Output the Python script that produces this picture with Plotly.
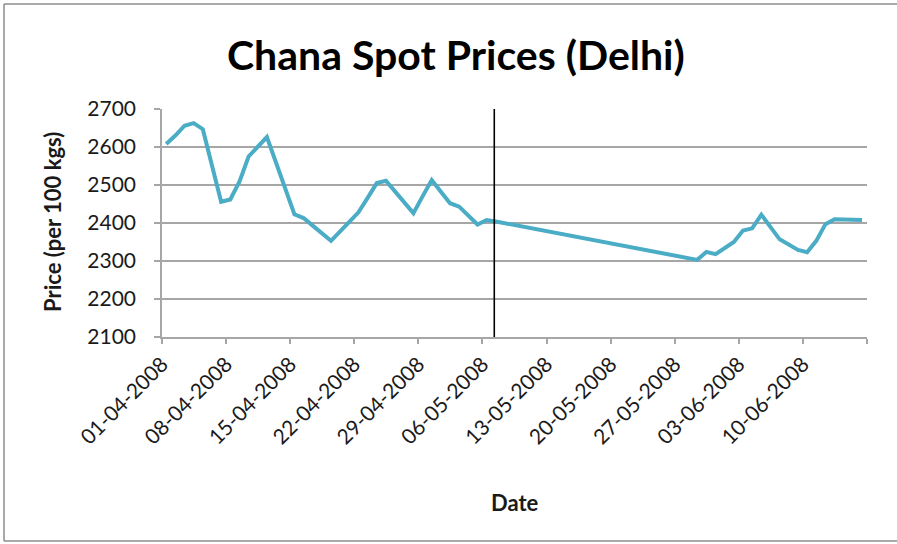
import plotly.graph_objects as go

# ---- data ----
dates = [
    "2008-04-01", "2008-04-02", "2008-04-03", "2008-04-04", "2008-04-05",
    "2008-04-07", "2008-04-08", "2008-04-09", "2008-04-10", "2008-04-11", "2008-04-12",
    "2008-04-15", "2008-04-16", "2008-04-17", "2008-04-18", "2008-04-19",
    "2008-04-21", "2008-04-22", "2008-04-23", "2008-04-24", "2008-04-25", "2008-04-26",
    "2008-04-28", "2008-04-29", "2008-04-30", "2008-05-01", "2008-05-02", "2008-05-03",
    "2008-05-05", "2008-05-06", "2008-05-07",
    "2008-05-29", "2008-05-30", "2008-05-31",
    "2008-06-02", "2008-06-03", "2008-06-04", "2008-06-05", "2008-06-06", "2008-06-07",
    "2008-06-09", "2008-06-10", "2008-06-11", "2008-06-12", "2008-06-13", "2008-06-14",
    "2008-06-16",
]
prices = [
    2608, 2630, 2656, 2663, 2647,
    2456, 2462, 2509, 2575, 2601, 2626,
    2423, 2413, 2393, 2373, 2353,
    2403, 2428, 2466, 2505, 2511, 2483,
    2426, 2470, 2513, 2482, 2452, 2443,
    2396, 2408, 2404,
    2303, 2324, 2318,
    2350, 2380, 2386, 2422, 2390, 2357,
    2329, 2323, 2353, 2397, 2410, 2410,
    2408,
]
tick_dates = ["2008-04-01", "2008-04-08", "2008-04-15", "2008-04-22", "2008-04-29",
              "2008-05-06", "2008-05-13", "2008-05-20", "2008-05-27", "2008-06-03",
              "2008-06-10", "2008-06-17"]
tick_labels = ["01-04-2008", "08-04-2008", "15-04-2008", "22-04-2008", "29-04-2008",
               "06-05-2008", "13-05-2008", "20-05-2008", "27-05-2008", "03-06-2008",
               "10-06-2008", ""]
y_ticks = [2100, 2200, 2300, 2400, 2500, 2600, 2700]
marker_date = "2008-05-07 07:00"

title_text = "Chana Spot Prices (Delhi)"
x_title = "Date"
y_title = "Price (per 100 kgs)"

# points sit at the middle of each day's band (Excel date axis)
x_pts = [d + " 11:00" for d in dates]

W, H = 897, 544
ML, MR, MT, MB = 162, 30, 109, 207
pw, ph = W - ML - MR, H - MT - MB

def px(x):
    return (x - ML) / pw

def py(y):
    return (H - MB - y) / ph

fig = go.Figure()
fig.add_trace(go.Scatter(
    x=x_pts, y=prices, mode="lines",
    line=dict(color="#4BACC6", width=4),
    showlegend=False, hoverinfo="x+y",
))

font_family = "Lato, Calibri, 'DejaVu Sans', sans-serif"
grid_col = "#A6A6A6"
border_col = "#8C8C8C"

fig.update_layout(
    width=W, height=H,
    margin=dict(l=ML, r=MR, t=MT, b=MB),
    paper_bgcolor="white", plot_bgcolor="white",
    font=dict(family=font_family, color="#1a1a1a"),
    xaxis=dict(
        type="date",
        range=["2008-04-01", "2008-06-17"],
        tickmode="array", tickvals=tick_dates, ticktext=tick_labels,
        tickangle=-45, tickfont=dict(size=21, color="#1a1a1a"),
        ticks="outside", ticklen=5, tickcolor=grid_col, tickwidth=1.5,
        showline=True, linecolor=grid_col, linewidth=1.5,
        showgrid=False, zeroline=False,
    ),
    yaxis=dict(
        range=[2100, 2700],
        tickmode="array", tickvals=y_ticks,
        tickfont=dict(size=21, color="#1a1a1a"),
        ticks="outside", ticklen=6, tickcolor=grid_col, tickwidth=1.5,
        ticklabelstandoff=14,
        showline=True, linecolor=grid_col, linewidth=1.5,
        showgrid=True, gridcolor=grid_col, gridwidth=1.5,
        zeroline=False,
    ),
    shapes=[
        dict(type="line", xref="x", yref="y",
             x0=marker_date, x1=marker_date, y0=2100, y1=2711,
             line=dict(color="black", width=1.6)),
        # chart-area border (left, top, bottom)
        dict(type="line", xref="paper", yref="paper",
             x0=px(4), x1=px(4), y0=py(541), y1=py(4),
             line=dict(color=border_col, width=1.5), layer="below"),
        dict(type="line", xref="paper", yref="paper",
             x0=px(4), x1=px(897), y0=py(4), y1=py(4),
             line=dict(color=border_col, width=1.5), layer="below"),
        dict(type="line", xref="paper", yref="paper",
             x0=px(4), x1=px(897), y0=py(541), y1=py(541),
             line=dict(color=border_col, width=1.5), layer="below"),
    ],
    annotations=[
        dict(text="<b>" + title_text + "</b>", xref="paper", yref="paper",
             x=px(456), y=py(55), xanchor="center", yanchor="middle",
             showarrow=False, font=dict(size=41, color="black", family=font_family)),
        dict(text="<b>" + x_title + "</b>", xref="paper", yref="paper",
             x=px(515), y=py(502), xanchor="center", yanchor="middle",
             showarrow=False, font=dict(size=22, color="#1a1a1a", family=font_family)),
        dict(text="<b>" + y_title + "</b>", xref="paper", yref="paper",
             x=px(52), y=py(222), xanchor="center", yanchor="middle", textangle=-90,
             showarrow=False, font=dict(size=22, color="#1a1a1a", family=font_family)),
    ],
)

fig.write_html("out.html", config={"displayModeBar": False},
               post_script="document.body.style.margin='0';document.body.style.overflow='hidden';")
